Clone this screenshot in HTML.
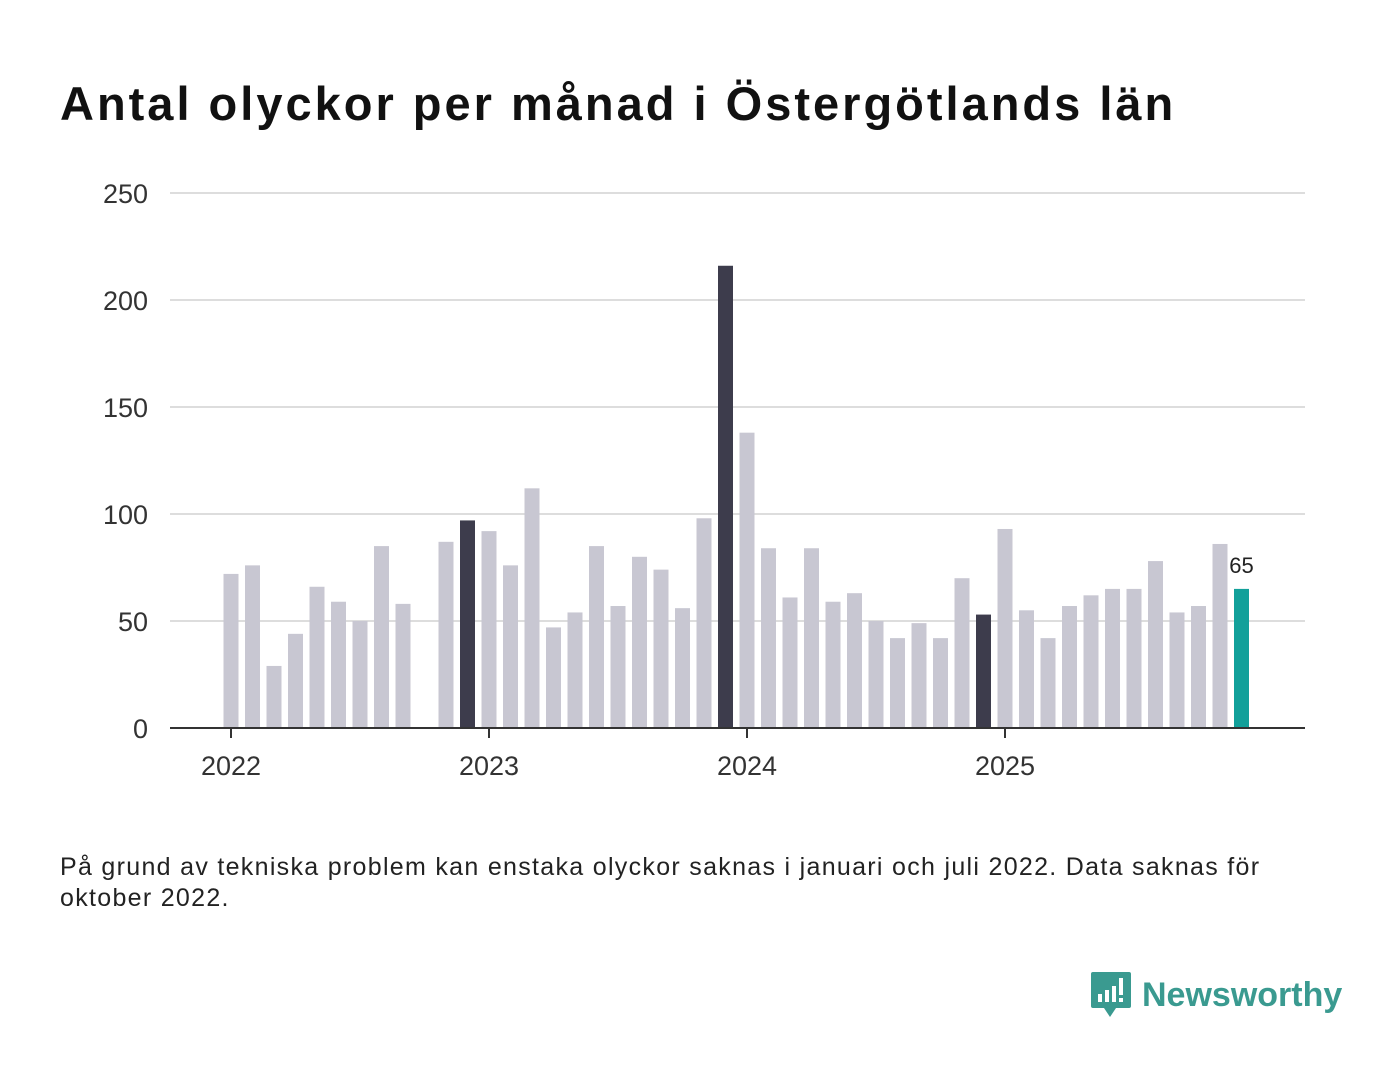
<!DOCTYPE html>
<html><head><meta charset="utf-8"><style>
body{margin:0;width:1400px;height:1080px;background:#fff;font-family:"Liberation Sans","DejaVu Sans",sans-serif;overflow:hidden}
#title{position:absolute;left:60px;top:76px;font-size:47px;font-weight:bold;color:#111;margin:0;letter-spacing:3px;white-space:nowrap}
#note{position:absolute;left:60px;top:852px;font-size:25px;color:#222;width:1230px;line-height:31px;letter-spacing:1.3px}
#logo{position:absolute;left:1090px;top:970px;display:flex;align-items:center}
#logo span{font-size:34px;font-weight:bold;color:#3a9a90;margin-left:10px}
</style></head><body>
<h1 id="title">Antal olyckor per månad i Östergötlands län</h1>
<svg id="chart" width="1400" height="1080" style="position:absolute;left:0;top:0"></svg>
<div id="note">På grund av tekniska problem kan enstaka olyckor saknas i januari och juli 2022. Data saknas för oktober 2022.</div>
<div id="logo">
<svg width="42" height="50" viewBox="0 0 42 50"><path d="M3 2h36a2 2 0 0 1 2 2v32a2 2 0 0 1-2 2H26l-6 9-6-9H3a2 2 0 0 1-2-2V4a2 2 0 0 1 2-2z" fill="#3a9a90"/><rect x="8" y="24" width="4" height="8" fill="#fff"/><rect x="15" y="20" width="4" height="12" fill="#fff"/><rect x="22" y="16" width="4" height="16" fill="#fff"/><rect x="29" y="8" width="4" height="17" fill="#fff"/><rect x="29" y="28" width="4" height="4" fill="#fff"/></svg>
<span>Newsworthy</span></div>
<script>
const values=[72,76,29,44,66,59,50,85,58,null,87,97,92,76,112,47,54,85,57,80,74,56,98,216,138,84,61,84,59,63,50,42,49,42,70,53,93,55,42,57,62,65,65,78,54,57,86,65];
const yTicks=[0,50,100,150,200,250];
const xYears=["2022","2023","2024","2025"];
const darkIdx=[11,23,35];
const ns="http://www.w3.org/2000/svg";
const svg=document.getElementById('chart');
const y0=728,pxPer=535/250,x0=231,step=21.5,bw=15;
const yS=v=>y0-v*pxPer, xS=i=>x0+i*step;
function mk(t,a){const e=document.createElementNS(ns,t);for(const k in a)e.setAttribute(k,a[k]);svg.appendChild(e);return e;}
yTicks.forEach(v=>{
 if(v>0){const l=mk('line',{x1:170,x2:1305,y1:yS(v),y2:yS(v),stroke:'#ddd','stroke-width':2});
 
 }
 const t=mk('text',{x:148,y:yS(v)+10,'text-anchor':'end','font-size':27,fill:'#333'});t.textContent=v;
 
 
});
values.forEach((v,i)=>{
 if(v==null)return;
 const last=i===values.length-1;
 const fill=last?'#12a09a':darkIdx.includes(i)?'#3d3c4c':'#c8c7d2';
 const r=mk('rect',{x:xS(i)-bw/2,y:yS(v),width:bw,height:v*pxPer,fill:fill});
 
 
 if(last){const t=mk('text',{x:xS(i),y:yS(v)-16,'text-anchor':'middle','font-size':22,fill:'#222',stroke:'#fff','stroke-width':5,'paint-order':'stroke'});t.textContent=v;
 
 }
});
const ax=mk('line',{x1:170,x2:1305,y1:y0,y2:y0,stroke:'#333','stroke-width':2});


xYears.forEach((y,k)=>{
 const x=xS(k*12);
 const tk=mk('line',{x1:x,x2:x,y1:y0,y2:y0+10,stroke:'#333','stroke-width':2});
 
 
 const t=mk('text',{x:x,y:775,'text-anchor':'middle','font-size':27,fill:'#333'});t.textContent=y;
 
 
});
</script>
</body></html>
